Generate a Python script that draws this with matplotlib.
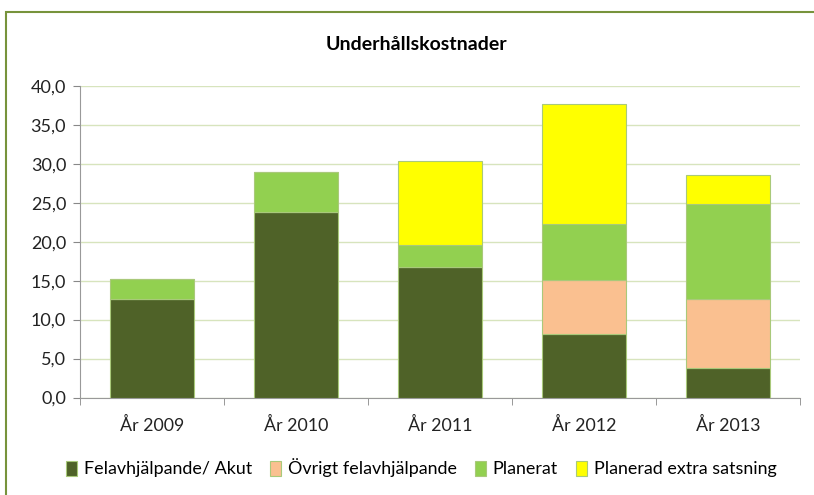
import numpy as np
import matplotlib
matplotlib.use("Agg")
import matplotlib.pyplot as plt
from matplotlib.patches import Rectangle
from matplotlib.ticker import FuncFormatter

years = ["År 2009", "År 2010", "År 2011", "År 2012", "År 2013"]
akut = [12.6, 23.8, 16.7, 8.1, 3.8]
ovrigt = [0.0, 0.0, 0.0, 7.0, 8.85]
planerat = [2.6, 5.1, 2.9, 7.2, 12.2]
extra = [0.0, 0.0, 10.8, 15.4, 3.7]

series = [
    ("Felavhjälpande/ Akut", akut, "#4F6228"),
    ("Övrigt felavhjälpande", ovrigt, "#FAC090"),
    ("Planerat", planerat, "#92D050"),
    ("Planerad extra satsning", extra, "#FFFF00"),
]

plt.rcParams['font.family'] = ['Lato', 'DejaVu Sans']

W, H = 814, 495
fig = plt.figure(figsize=(W / 100, H / 100), dpi=100)

# outer chart border
fig.patches.append(Rectangle((6 / W, -0.1), 1.2, 1 - 12 / H + 0.1, transform=fig.transFigure,
                             fill=False, edgecolor="#77933C", linewidth=1.5))

ax = fig.add_axes([80 / W, 1 - 397.5 / H, 720 / W, 311.5 / H])

x = np.arange(len(years))
bottom = np.zeros(len(years))
handles = []
for name, vals, col in series:
    vals = np.array(vals)
    b = ax.bar(x, vals, width=0.58, bottom=bottom, color=col, edgecolor="#A9C97A",
               linewidth=0.8, label=name, zorder=3)
    handles.append(b)
    bottom += vals

ax.set_xlim(-0.5, len(years) - 0.5)
ax.set_ylim(0, 40)
ax.set_yticks(np.arange(0, 41, 5))
ax.yaxis.set_major_formatter(FuncFormatter(lambda v, p: f"{v:.1f}".replace(".", ",")))
ax.grid(axis="y", color="#D7E4BD", linewidth=1, zorder=0)

ax.set_xticks(x)
ax.set_xticklabels(years)
ax.set_xticks(np.arange(-0.5, len(years), 1), minor=True)
ax.tick_params(axis="x", which="major", length=0, labelsize=12.8, pad=14, colors="#222222")
ax.tick_params(axis="x", which="minor", length=5, color="#888888")
ax.tick_params(axis="y", length=5, color="#888888", labelsize=13, colors="#222222", pad=5)

for s in ["top", "right"]:
    ax.spines[s].set_visible(False)
ax.spines["left"].set_color("#999999")
ax.spines["bottom"].set_color("#999999")

fig.text(416 / W, 1 - 45 / H, "Underhållskostnader", ha="center", va="center",
         fontsize=14, fontweight="bold")

fig.legend(handles=handles, loc="center", bbox_to_anchor=(421 / W, 1 - 468 / H), ncol=4,
           frameon=False, fontsize=12.9, handlelength=0.65, handleheight=0.9,
           handletextpad=0.35, columnspacing=1.0)

fig.savefig("out.png", dpi=100)
